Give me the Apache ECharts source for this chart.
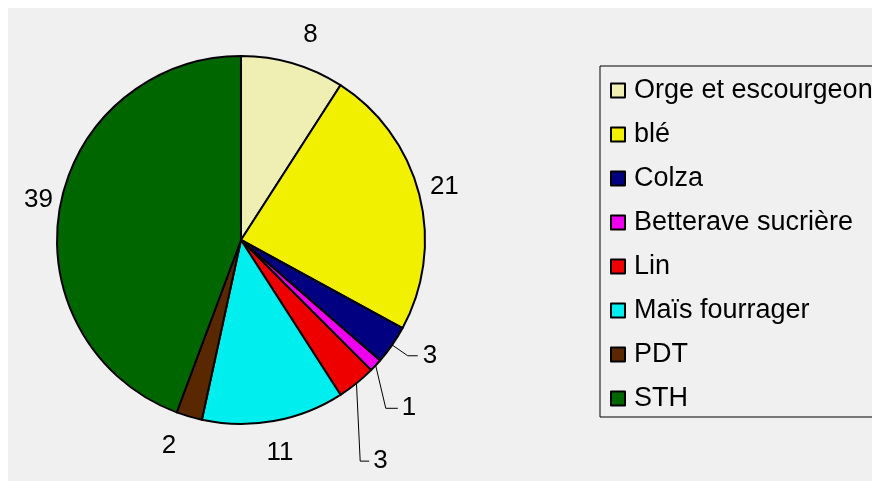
<!DOCTYPE html>
<html>
<head>
    <meta charset="utf-8">
    <title>Assolement</title>
    <script src="https://cdn.jsdelivr.net/npm/echarts@6/dist/echarts.min.js"></script>
    <style>
        body {
            margin: 0;
            background: #fff;
        }
        #chart {
            position: absolute;
            left: 8px;
            top: 8px;
            width: 864px;
            height: 473px;
        }
    </style>
</head>
<body>
    <div id="chart"></div>

    <script>
        // cultures et surfaces
        const cultures = ['Orge et escourgeon', 'blé', 'Colza', 'Betterave sucrière', 'Lin', 'Maïs fourrager', 'PDT', 'STH'];
        const valeurs = [8, 21, 3, 1, 3, 11, 2, 39];
        const couleurs = ['#f0efb3', '#f0f000', '#000080', '#ee00ee', '#ee0000', '#00eeee', '#5a2800', '#006600'];

        // traits de rappel (length, length2, visible) et petits décalages d'étiquettes
        const rappels = [
            [30, 0, false], [12, 0, false], [19, 10, true], [63, 12, true],
            [100, 9, true], [22, 0, false], [28, 0, false], [6, 0, false]
        ];
        const decalages = [[-3, 0], [-6, -5], [0, 0], [-37, 0], [-60, 0], [-16, 10], [0, 2], [4, -6]];

        const police = "'Liberation Sans', Arial, sans-serif";

        // décale l'étiquette et redessine son trait depuis le point de l'arc
        function placerEtiquette(p) {
            const i = p.dataIndex;
            const [dx, dy] = decalages[i];
            const res = { dx: dx, dy: dy };
            if (rappels[i][2] && (dx || dy) && p.labelLinePoints) {
                const r = p.labelRect;
                const y = r.y + r.height / 2 + dy;
                const x3 = r.x + dx - 4;
                res.labelLinePoints = [p.labelLinePoints[0], [x3 - rappels[i][1], y], [x3, y]];
            }
            return res;
        }

        const chart = echarts.init(document.getElementById('chart'));
        chart.setOption({
            backgroundColor: '#f0f0f0',
            animation: false,
            legend: {
                orient: 'vertical',
                left: 592,
                top: 58,
                padding: [11, 30, 5, 10],
                itemWidth: 14,
                itemHeight: 14,
                itemGap: 17,
                icon: 'rect',
                backgroundColor: '#f0f0f0',
                borderColor: '#000',
                borderWidth: 1,
                textStyle: { color: '#000', fontSize: 27, fontFamily: police, padding: [0, 0, 0, 4] },
                data: cultures
            },
            series: [{
                type: 'pie',
                center: [233, 232],
                radius: 184,
                startAngle: 90,
                avoidLabelOverlap: false,
                itemStyle: { borderColor: '#000', borderWidth: 2 },
                label: {
                    show: true,
                    position: 'outside',
                    formatter: '{c}',
                    color: '#000',
                    fontSize: 26,
                    fontFamily: police
                },
                labelLine: { lineStyle: { color: '#000', width: 1 } },
                labelLayout: placerEtiquette,
                data: cultures.map((nom, i) => ({
                    name: nom,
                    value: valeurs[i],
                    itemStyle: { color: couleurs[i] },
                    labelLine: { show: rappels[i][2], length: rappels[i][0], length2: rappels[i][1] }
                }))
            }]
        });
    </script>
</body>
</html>
